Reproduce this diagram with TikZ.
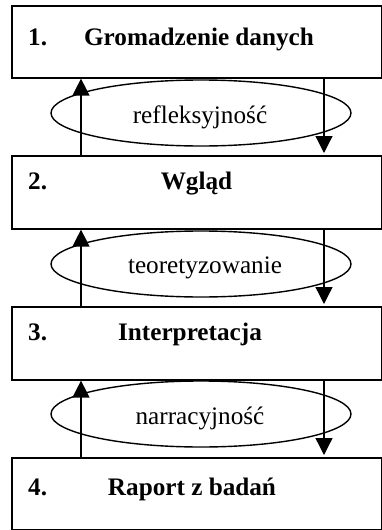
\documentclass[tikz,border=0pt]{standalone}
\usepackage{fontspec}
\setmainfont{Liberation Serif}
\usetikzlibrary{arrows.meta,shapes.geometric}
\begin{document}
\begin{tikzpicture}[x=1pt,y=-1pt,
  stage/.style={draw, line width=1.6pt, rectangle, minimum width=370pt,
    inner sep=0pt, anchor=north west},
  loop/.style={draw, ellipse, line width=1.4pt, minimum width=300pt,
    minimum height=66pt, inner sep=0pt},
  num/.style={font=\fontsize{25.2}{30}\selectfont\bfseries, anchor=base west, inner sep=0pt},
  title/.style={font=\fontsize{25.2}{30}\selectfont\bfseries, anchor=base, inner sep=0pt},
  lab/.style={font=\fontsize{25.2}{30}\selectfont, anchor=base, inner sep=0pt},
  arr/.style={line width=1.3pt, -{Triangle[length=17pt,width=17pt]}}]
\useasboundingbox (0,0) rectangle (382,530);

% stage boxes
\node[stage, minimum height=72pt] (b1) at (11,5) {};
\node[stage, minimum height=73pt] (b2) at (11,155) {};
\node[stage, minimum height=73pt] (b3) at (11,306) {};
\node[stage, minimum height=72pt] (b4) at (11,457) {};

% stage texts
\node[num] (n1) at (28,45) {1.};
\node[title] (t1) at (199,45) {Gromadzenie danych};
\node[num] (n2) at (28,189) {2.};
\node[title] (t2) at (196.5,189) {Wgląd};
\node[num] (n3) at (28,340) {3.};
\node[title] (t3) at (190,340) {Interpretacja};
\node[num] (n4) at (28,495) {4.};
\node[title] (t4) at (192,495) {Raport z badań};

% feedback loops between the stages
\node[loop] (e1) at (201,113) {};
\node[loop] (e2) at (201,264) {};
\node[loop] (e3) at (201,414) {};
\node[lab] (l1) at (200,123) {refleksyjność};
\node[lab] (l2) at (205,273) {teoretyzowanie};
\node[lab] (l3) at (200,424) {narracyjność};

% vertical arrows: up on the left, down on the right
\coordinate (ux) at (81,0);
\coordinate (dx) at (324,0);
\draw[arr] (ux |- b2.north) -- (ux |- b1.south);
\draw[arr, shorten >=2pt] (dx |- b1.south) -- (dx |- b2.north);
\draw[arr] (ux |- b3.north) -- (ux |- b2.south);
\draw[arr, shorten >=2pt] (dx |- b2.south) -- (dx |- b3.north);
\draw[arr] (ux |- b4.north) -- (ux |- b3.south);
\draw[arr, shorten >=2pt] (dx |- b3.south) -- (dx |- b4.north);
\end{tikzpicture}
\end{document}
